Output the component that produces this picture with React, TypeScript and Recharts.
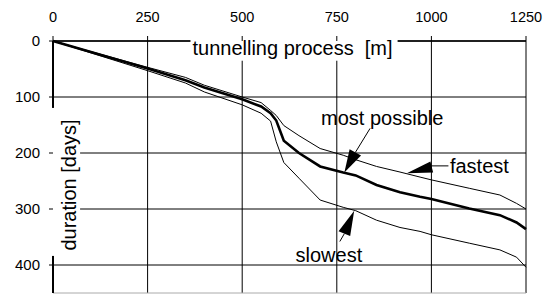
import { LineChart, Line, XAxis, YAxis, CartesianGrid, ReferenceLine, ReferenceDot } from 'recharts';

// tunnelling progress [m] vs. duration [days], three scenarios
const distance = [0, 250, 350, 400, 500, 550, 575, 590, 610, 650, 706, 767, 800, 855, 917, 970, 1000, 1100, 1181, 1225, 1250];
const fastest = [0, 47, 65, 79, 100, 110, 124, 133, 151, 169, 192, 204, 212, 224, 234, 243, 248, 263, 275, 290, 300];
const mostPossible = [0, 49, 70, 83, 104, 117, 129, 142, 178, 200, 224, 235, 240, 257, 270, 278, 282, 299, 311, 324, 336];
const slowest = [0, 53, 75, 91, 114, 129, 143, 180, 217, 245, 284, 297, 303, 320, 333, 340, 346, 361, 373, 386, 404];

const xTicks = [0, 250, 500, 750, 1000, 1250];
const yTicks = [0, 100, 200, 300, 400];

const data = distance.map((d, i) => ({
  distance: d,
  fastest: fastest[i],
  mostPossible: mostPossible[i],
  slowest: slowest[i],
}));

const FONT = 'Liberation Sans, Arial, sans-serif';

function TopTick(props: any) {
  const { x, payload } = props;
  return (
    <g>
      <line x1={x} x2={x} y1={36} y2={41} stroke="#000" />
      <text x={x} y={21.5} textAnchor="middle" fontSize={14.5} fontFamily={FONT} fill="#000">
        {payload.value}
      </text>
    </g>
  );
}

function LeftTick(props: any) {
  const { y, payload } = props;
  return (
    <g>
      <line x1={49} x2={53} y1={y} y2={y} stroke="#000" />
      <text x={40} y={y} dy="0.36em" textAnchor="end" fontSize={15} fontFamily={FONT} fill="#000">
        {payload.value}
      </text>
    </g>
  );
}

// filled arrow head: first segment point is the tip, second the middle of the base
function Arrow(props: any) {
  const { x1, y1, x2, y2, hw } = props;
  const dx = x2 - x1;
  const dy = y2 - y1;
  const len = Math.sqrt(dx * dx + dy * dy) || 1;
  const nx = (-dy / len) * hw;
  const ny = (dx / len) * hw;
  return <polygon points={`${x1},${y1} ${x2 + nx},${y2 + ny} ${x2 - nx},${y2 - ny}`} fill="#000" />;
}

function Label(text: string, anchor: string) {
  return (p: any) => (
    <text x={p.cx} y={p.cy} textAnchor={anchor} fontSize={20} fontFamily={FONT} fill="#000">
      {text}
    </text>
  );
}

export default function App() {
  return (
    <div style={{ position: 'absolute', left: 0, top: 0, background: '#fff' }}>
      <LineChart width={543} height={295} data={data} margin={{ top: 11, right: 17, left: 13, bottom: 2 }}>
        <CartesianGrid stroke="#000" strokeWidth={1} horizontalValues={yTicks} verticalValues={xTicks} />
        <XAxis
          dataKey="distance"
          type="number"
          orientation="top"
          domain={[0, 1250]}
          ticks={xTicks}
          height={30}
          axisLine={false}
          tickLine={false}
          tick={<TopTick />}
        />
        <YAxis
          type="number"
          reversed
          domain={[0, 450]}
          ticks={yTicks}
          width={40}
          axisLine={false}
          tickLine={false}
          tick={<LeftTick />}
        />
        <ReferenceLine y={450} stroke="#aaa" ifOverflow="visible" />
        {/* top frame line, broken by the axis title */}
        <ReferenceLine segment={[{ x: 0, y: 0 }, { x: 364, y: 0 }]} stroke="#000" strokeWidth={1.5} ifOverflow="visible" />
        <ReferenceLine segment={[{ x: 910, y: 0 }, { x: 1250, y: 0 }]} stroke="#000" strokeWidth={1.5} ifOverflow="visible" />

        {/* axis titles on white boxes */}
        <ReferenceDot
          x={633}
          y={24.5}
          shape={(p: any) => (
            <g>
              <rect x={p.cx - 102} y={p.cy - 21} width={207} height={27} fill="#fff" />
              <text x={p.cx} y={p.cy} textAnchor="middle" fontSize={20} fontFamily={FONT} fill="#000" style={{ whiteSpace: 'pre' }}>
                {'tunnelling process  [m]'}
              </text>
            </g>
          )}
        />
        <ReferenceDot
          x={61}
          y={257}
          shape={(p: any) => (
            <g>
              <rect x={p.cx - 38} y={p.cy - 77} width={42} height={148} fill="#fff" />
              <text
                x={p.cx}
                y={p.cy}
                textAnchor="middle"
                fontSize={20}
                fontFamily={FONT}
                fill="#000"
                transform={`rotate(-90 ${p.cx} ${p.cy})`}
              >
                duration [days]
              </text>
            </g>
          )}
        />
        <ReferenceLine segment={[{ x: 0, y: 0 }, { x: 0, y: 120 }]} stroke="#000" strokeWidth={2} ifOverflow="visible" />
        <ReferenceLine segment={[{ x: 0, y: 373 }, { x: 0, y: 450 }]} stroke="#000" strokeWidth={2} ifOverflow="visible" />

        <Line dataKey="fastest" type="linear" stroke="#000" strokeWidth={1} dot={false} isAnimationActive={false} />
        <Line dataKey="mostPossible" type="linear" stroke="#000" strokeWidth={2.6} dot={false} isAnimationActive={false} />
        <Line dataKey="slowest" type="linear" stroke="#000" strokeWidth={1} dot={false} isAnimationActive={false} />

        {/* annotations */}
        <ReferenceDot x={870} y={150} shape={Label('most possible', 'middle')} />
        <ReferenceLine segment={[{ x: 838, y: 156 }, { x: 799, y: 199 }]} stroke="#000" strokeWidth={1} />
        <ReferenceLine segment={[{ x: 770, y: 235 }, { x: 799, y: 199 }]} shape={(p: any) => <Arrow {...p} hw={6.5} />} />

        <ReferenceDot x={1049} y={235} shape={Label('fastest', 'start')} />
        <ReferenceLine segment={[{ x: 1045, y: 223 }, { x: 1000, y: 223 }]} stroke="#000" strokeWidth={1} />
        <ReferenceLine segment={[{ x: 935, y: 236 }, { x: 1001, y: 225 }]} shape={(p: any) => <Arrow {...p} hw={5.6} />} />

        <ReferenceDot x={729} y={394} shape={Label('slowest', 'middle')} />
        <ReferenceLine segment={[{ x: 758, y: 358 }, { x: 770, y: 344 }]} stroke="#000" strokeWidth={1} />
        <ReferenceLine segment={[{ x: 796, y: 303 }, { x: 770, y: 344 }]} shape={(p: any) => <Arrow {...p} hw={6.3} />} />
      </LineChart>
    </div>
  );
}
